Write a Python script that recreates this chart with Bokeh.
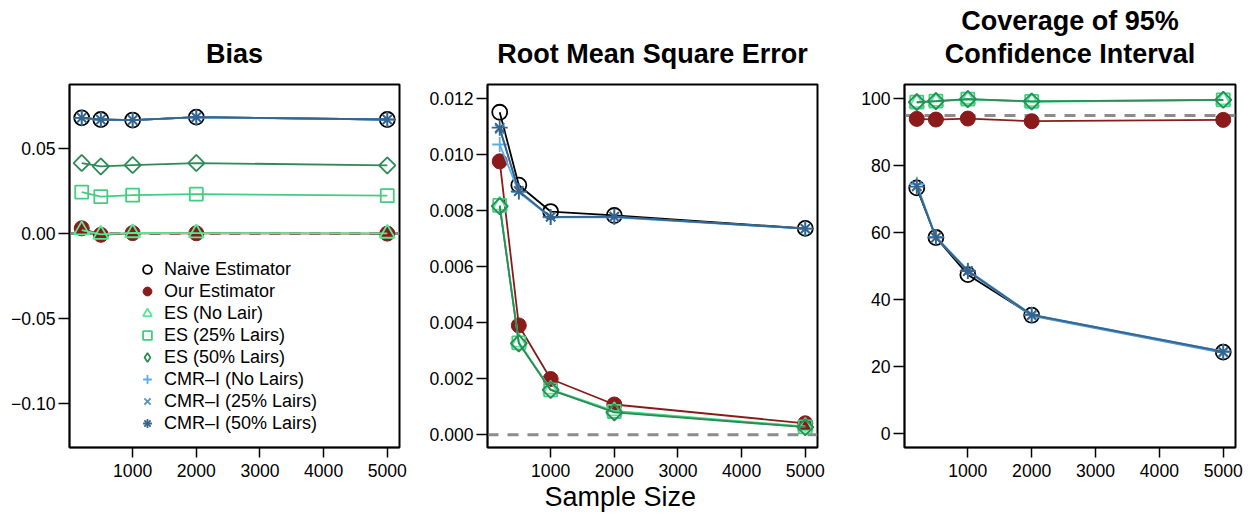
import math
from bokeh.plotting import figure
from bokeh.layouts import row
from bokeh.models import (Span, Legend, LegendItem, FixedTicker, Range1d, Title,
                          LinearAxis, PrintfTickFormatter, ColumnDataSource)
from bokeh.embed import file_html
from bokeh.resources import INLINE

# ---------------- data ----------------
sample_size = [200, 500, 1000, 2000, 5000]

series_names = ["Naive Estimator", "Our Estimator", "ES (No Lair)", "ES (25% Lairs)",
                "ES (50% Lairs)", "CMR\u2013I (No Lairs)", "CMR\u2013I (25% Lairs)",
                "CMR\u2013I (50% Lairs)"]

bias_naive = [0.0680, 0.0670, 0.0667, 0.0684, 0.0670]
bias_ours = [0.0030, -0.0008, 0.0002, 0.0001, -0.0001]
bias_es0 = [0.0020, -0.0006, 0.0003, 0.0002, 0.0000]
bias_es25 = [0.0243, 0.0216, 0.0225, 0.0231, 0.0222]
bias_es50 = [0.0414, 0.0394, 0.0402, 0.0414, 0.0400]
bias_cmr0 = [0.0679, 0.0669, 0.0666, 0.0683, 0.0669]
bias_cmr25 = [0.0680, 0.0669, 0.0667, 0.0684, 0.0670]
bias_cmr50 = [0.0680, 0.0670, 0.0667, 0.0684, 0.0670]

rmse_naive = [0.01150, 0.00890, 0.00796, 0.00782, 0.00736]
rmse_ours = [0.00975, 0.00390, 0.00199, 0.00108, 0.00041]
rmse_es0 = [0.00818, 0.00330, 0.00162, 0.00085, 0.00030]
rmse_es25 = [0.00818, 0.00328, 0.00160, 0.00083, 0.00028]
rmse_es50 = [0.00815, 0.00326, 0.00160, 0.00080, 0.00027]
rmse_cmr0 = [0.01035, 0.00865, 0.00775, 0.00775, 0.00735]
rmse_cmr25 = [0.01090, 0.00870, 0.00777, 0.00777, 0.00735]
rmse_cmr50 = [0.01095, 0.00868, 0.00777, 0.00778, 0.00735]

cov_naive = [73.4, 58.6, 47.5, 35.4, 24.4]
cov_ours = [94.0, 93.8, 94.1, 93.3, 93.7]
cov_es0 = [98.8, 99.2, 99.8, 99.1, 99.6]
cov_es25 = [99.0, 99.3, 99.9, 99.2, 99.7]
cov_es50 = [99.0, 99.3, 99.9, 99.2, 99.7]
cov_cmr0 = [74.5, 58.8, 48.8, 35.6, 24.6]
cov_cmr25 = [74.0, 58.5, 48.5, 35.2, 24.2]
cov_cmr50 = [73.8, 58.6, 48.6, 35.5, 24.5]

x_ticks = [1000, 2000, 3000, 4000, 5000]
bias_ticks = [-0.10, -0.05, 0.0, 0.05]
bias_tick_labels = ["\u22120.10", "\u22120.05", "0.00", "0.05"]
rmse_ticks = [0.0, 0.002, 0.004, 0.006, 0.008, 0.010, 0.012]
cov_ticks = [0, 20, 40, 60, 80, 100]

titles = ["Bias", "Root Mean Square Error", "Coverage of 95%", "Confidence Interval"]
x_title = "Sample Size"

# ---------------- styles ----------------
FONT = "Liberation Sans"
colors = ["#000000", "#8B1A1A", "#4EEE94", "#43CD80", "#2E8B57",
          "#5CACEE", "#4F94CD", "#36648B"]
X_LO, X_HI = 8, 5192


def draw_series(p, ys_list):
    renderers = []
    for i, ys in enumerate(ys_list):
        c = colors[i]
        src = ColumnDataSource(dict(x=sample_size, y=ys))
        p.line("x", "y", source=src, line_color=c, line_width=1.8)
        rs = []
        if i == 0:
            rs.append(p.scatter("x", "y", source=src, marker="circle", size=15,
                                fill_color=None, line_color=c, line_width=1.8))
        elif i == 1:
            rs.append(p.scatter("x", "y", source=src, marker="circle", size=15,
                                fill_color=c, line_color=c, line_width=1))
        elif i == 2:
            rs.append(p.scatter("x", "y", source=src, marker="triangle", size=15,
                                fill_color=None, line_color=c, line_width=1.8))
        elif i == 3:
            rs.append(p.scatter("x", "y", source=src, marker="square", size=13,
                                fill_color=None, line_color=c, line_width=1.8))
        elif i == 4:
            p.scatter("x", "y", source=src, marker="square", size=11.5,
                      angle=math.pi / 4, fill_color=None, line_color=c,
                      line_width=1.8)
            # legend swatch only (legends do not rotate markers); never visible in plot
            proxy = ColumnDataSource(dict(x=[float("nan")], y=[float("nan")]))
            rs.append(p.scatter("x", "y", source=proxy, marker="diamond", size=15,
                                fill_color=None, line_color=c, line_width=1.8))
        elif i == 5:
            rs.append(p.scatter("x", "y", source=src, marker="cross", size=15,
                                line_color=c, line_width=1.8))
        elif i == 6:
            rs.append(p.scatter("x", "y", source=src, marker="x", size=13,
                                line_color=c, line_width=1.8))
        else:
            rs.append(p.scatter("x", "y", source=src, marker="cross", size=16,
                                line_color=c, line_width=1.8))
            rs.append(p.scatter("x", "y", source=src, marker="x", size=13,
                                line_color=c, line_width=1.8))
        renderers.append(rs)
    return renderers


def make_fig(ylo, yhi, width, left, right, yticks):
    p = figure(width=width, height=514, x_range=Range1d(X_LO, X_HI),
               y_range=Range1d(ylo, yhi), output_backend="svg",
               toolbar_location=None, min_border_left=left,
               min_border_right=right, min_border_top=84, min_border_bottom=67)
    p.xgrid.visible = False
    p.ygrid.visible = False
    p.outline_line_color = "black"
    p.outline_line_width = 2
    p.outline_line_alpha = 1
    p.background_fill_color = "white"
    p.border_fill_color = "white"
    for ax in (p.xaxis[0], p.yaxis[0]):
        ax.axis_line_color = "black"
        ax.axis_line_width = 1.5
        ax.major_tick_line_color = "black"
        ax.major_tick_line_width = 1.5
        ax.major_tick_in = 0
        ax.minor_tick_line_color = None
        ax.major_label_text_font = FONT
        ax.major_label_text_font_size = "17.6px"
        ax.major_label_text_color = "black"
    p.xaxis[0].ticker = FixedTicker(ticks=x_ticks)
    p.xaxis[0].major_tick_out = 10
    p.xaxis[0].major_label_standoff = 6
    p.yaxis[0].ticker = FixedTicker(ticks=yticks)
    p.yaxis[0].major_tick_out = 11
    p.yaxis[0].major_label_standoff = 3
    return p


def add_heading(p, text, standoff):
    """A panel heading drawn as the label of a bare axis above the frame."""
    ax = LinearAxis(ticker=FixedTicker(ticks=[]), axis_line_color=None,
                    major_tick_line_color=None, minor_tick_line_color=None,
                    major_tick_out=0, major_tick_in=0, minor_tick_out=0,
                    major_label_standoff=0, axis_label=text,
                    axis_label_standoff=standoff, axis_label_text_font=FONT,
                    axis_label_text_font_size="27px", axis_label_text_font_style="bold",
                    axis_label_text_color="black")
    p.add_layout(ax, "above")


def add_ref(p, loc):
    p.add_layout(Span(location=loc, dimension="width", line_color="#8C8C8C",
                      line_width=3, line_dash="11 9", level="underlay"))


# ---------------- panel 1: bias ----------------
p1 = make_fig(-0.1259, 0.0876, 410, 69, 11, bias_ticks)
p1.yaxis[0].major_label_overrides = {t: l for t, l in zip(bias_ticks, bias_tick_labels)}
add_heading(p1, titles[0], 16)
add_ref(p1, 0)
r1 = draw_series(p1, [bias_naive, bias_ours, bias_es0, bias_es25, bias_es50,
                      bias_cmr0, bias_cmr25, bias_cmr50])
legend = Legend(items=[LegendItem(label=n, renderers=r) for n, r in zip(series_names, r1)],
                location=(67, 13), background_fill_alpha=0, border_line_color=None,
                label_text_font=FONT, label_text_font_size="18px",
                label_text_color="black",
                glyph_width=22, glyph_height=22, label_height=22, spacing=0,
                label_standoff=6, padding=0, margin=0)
p1.add_layout(legend)

# ---------------- panel 2: RMSE ----------------
p2 = make_fig(-0.000453, 0.01249, 417, 77, 10, rmse_ticks)
p2.yaxis[0].formatter = PrintfTickFormatter(format="%.3f")
add_heading(p2, titles[1], 16)
add_ref(p2, 0)
draw_series(p2, [rmse_naive, rmse_ours, rmse_es0, rmse_es25, rmse_es50,
                 rmse_cmr0, rmse_cmr25, rmse_cmr50])
p2.add_layout(Title(text=x_title, align="left", offset=57, standoff=0,
                    text_font=FONT, text_font_size="27px", text_font_style="normal",
                    text_color="black"), "below")

# ---------------- panel 3: coverage ----------------
p3 = make_fig(-4.08, 104.26, 426, 77, 18, cov_ticks)
add_heading(p3, titles[3], 16)
add_heading(p3, titles[2], 0)
add_ref(p3, 95)
draw_series(p3, [cov_naive, cov_ours, cov_es0, cov_es25, cov_es50,
                 cov_cmr0, cov_cmr25, cov_cmr50])

layout = row(p1, p2, p3, spacing=0)
open("out.html", "w").write(file_html(layout, INLINE))
